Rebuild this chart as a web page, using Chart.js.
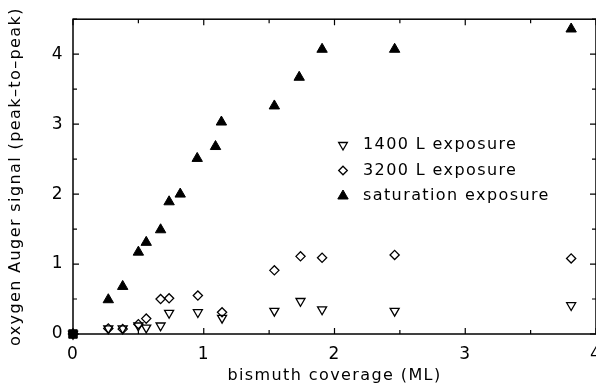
<!DOCTYPE html>
<html>
<head>
<meta charset="utf-8">
<script src="https://cdn.jsdelivr.net/npm/chart.js@4/dist/chart.umd.min.js"></script>
<style>
  html, body { margin: 0; padding: 0; background: #fff; }
  #wrap { width: 596px; height: 385px; }
</style>
</head>
<body>
<div id="wrap"><canvas id="chart" width="596" height="385"></canvas></div>
<script>
// bismuth coverage (ML) for each series
const satCoverage = [0, 0.27, 0.38, 0.50, 0.56, 0.67, 0.735, 0.82, 0.95, 1.09, 1.135, 1.54, 1.73, 1.905, 2.46, 3.81];
const satSignal   = [0, 0.49, 0.68, 1.17, 1.31, 1.49, 1.89, 2.00, 2.51, 2.68, 3.03, 3.26, 3.67, 4.07, 4.07, 4.36];

const lowCoverage = [0, 0.27, 0.38, 0.50, 0.56, 0.67, 0.735, 0.955, 1.14, 1.54, 1.74, 1.905, 2.46, 3.81];
const signal3200  = [0, 0.08, 0.07, 0.14, 0.22, 0.50, 0.51, 0.55, 0.31, 0.91, 1.11, 1.09, 1.13, 1.08];
const signal1400  = [0, 0.08, 0.08, 0.12, 0.09, 0.12, 0.30, 0.31, 0.23, 0.33, 0.47, 0.35, 0.33, 0.41];

const xTicks = [0, 1, 2, 3, 4];
const yTicks = [0, 1, 2, 3, 4];

const seriesNames = ['1400 L exposure', '3200 L exposure', 'saturation exposure'];

function pts(xs, ys) {
    return xs.map((x, i) => ({ x: x, y: ys[i] }));
}

// wider letter spacing, closer to the original typeface
const spacingPlugin = {
    id: 'spacing',
    beforeDraw(chart) {
        chart.ctx.letterSpacing = '1.4px';
    }
};

// frame with inward ticks on all four sides + legend inside the plot
const framePlugin = {
    id: 'frame',
    afterDraw(chart) {
        const ctx = chart.ctx;
        const a = chart.chartArea;
        const xs = chart.scales.x, ys = chart.scales.y;
        ctx.save();
        ctx.strokeStyle = '#000';
        ctx.lineWidth = 1.5;
        ctx.strokeRect(a.left, a.top, a.right - a.left, a.bottom - a.top);
        ctx.lineWidth = 1.2;
        ctx.beginPath();
        for (let v = 0; v <= 4.001; v += 0.5) {
            const len = Number.isInteger(v) ? 6 : 4;
            const px = xs.getPixelForValue(v);
            ctx.moveTo(px, a.bottom); ctx.lineTo(px, a.bottom - len);
            ctx.moveTo(px, a.top); ctx.lineTo(px, a.top + len);
        }
        for (let v = 0; v <= 4.501; v += 0.5) {
            const len = Number.isInteger(v) ? 6 : 4;
            const py = ys.getPixelForValue(v);
            ctx.moveTo(a.left, py); ctx.lineTo(a.left + len, py);
            ctx.moveTo(a.right, py); ctx.lineTo(a.right - len, py);
        }
        ctx.stroke();

        // legend
        ctx.letterSpacing = '1.4px';
        ctx.font = '16px "DejaVu Sans"';
        ctx.textBaseline = 'middle';
        const lx = 343, ly = 145, step = 25.5;
        chart.data.datasets.forEach((ds, i) => {
            const y = ly + i * step;
            ctx.fillStyle = ds.backgroundColor;
            ctx.strokeStyle = '#000';
            ctx.lineWidth = ds.borderWidth;
            Chart.helpers.drawPoint(ctx, {
                pointStyle: ds.legendStyle,
                radius: ds.legendRadius,
                rotation: ds.rotation || 0,
                borderWidth: ds.borderWidth
            }, lx, y);
            ctx.fillStyle = '#000';
            ctx.fillText(ds.label, 363, y);
        });
        ctx.restore();
    }
};

new Chart(document.getElementById('chart'), {
    type: 'scatter',
    data: {
        datasets: [{
            label: seriesNames[0],
            data: pts(lowCoverage, signal1400),
            pointStyle: 'triangle',
            legendStyle: 'triangle',
            rotation: 180,
            pointRadius: 5.2,
            legendRadius: 5,
            backgroundColor: 'rgba(0,0,0,0)',
            borderColor: '#000',
            borderWidth: 1.3,
            clip: false
        }, {
            label: seriesNames[1],
            data: pts(lowCoverage, signal3200),
            pointStyle: 'rectRot',
            legendStyle: 'rectRot',
            pointRadius: 4.6,
            legendRadius: 4.3,
            backgroundColor: 'rgba(0,0,0,0)',
            borderColor: '#000',
            borderWidth: 1.3,
            clip: false
        }, {
            label: seriesNames[2],
            data: pts(satCoverage, satSignal),
            pointStyle: satCoverage.map((x, i) => i === 0 ? 'rect' : 'triangle'),
            legendStyle: 'triangle',
            pointRadius: 6,
            legendRadius: 6,
            backgroundColor: '#000',
            borderColor: '#000',
            borderWidth: 1,
            clip: false
        }]
    },
    options: {
        responsive: false,
        animation: false,
        layout: { autoPadding: false, padding: { top: 17, right: 0, left: 0, bottom: 0 } },
        plugins: {
            legend: { display: false },
            tooltip: { enabled: false }
        },
        scales: {
            x: {
                type: 'linear',
                min: 0,
                max: 4,
                afterBuildTicks: s => { s.ticks = xTicks.map(v => ({ value: v })); },
                afterFit: s => { s.height = 51; s.paddingRight = 0; s.paddingLeft = 0; },
                grid: { display: false, drawTicks: false },
                border: { display: false },
                ticks: {
                    color: '#000',
                    padding: 10,
                    maxRotation: 0,
                    font: { family: 'DejaVu Sans', size: 17 }
                },
                title: {
                    display: true,
                    text: 'bismuth coverage (ML)',
                    color: '#000',
                    padding: { top: 0, bottom: 0 },
                    font: { family: 'DejaVu Sans', size: 16 }
                }
            },
            y: {
                type: 'linear',
                min: 0,
                max: 4.5,
                afterBuildTicks: s => { s.ticks = yTicks.map(v => ({ value: v })); },
                afterFit: s => { s.width = 73; },
                grid: { display: false, drawTicks: false },
                border: { display: false },
                ticks: {
                    color: '#000',
                    padding: 9,
                    font: { family: 'DejaVu Sans', size: 17 }
                },
                title: {
                    display: true,
                    text: 'oxygen Auger signal (peak\u2013to\u2013peak)',
                    color: '#000',
                    padding: { top: 6, bottom: 0 },
                    font: { family: 'DejaVu Sans', size: 16 }
                }
            }
        }
    },
    plugins: [spacingPlugin, framePlugin]
});
</script>
</body>
</html>
